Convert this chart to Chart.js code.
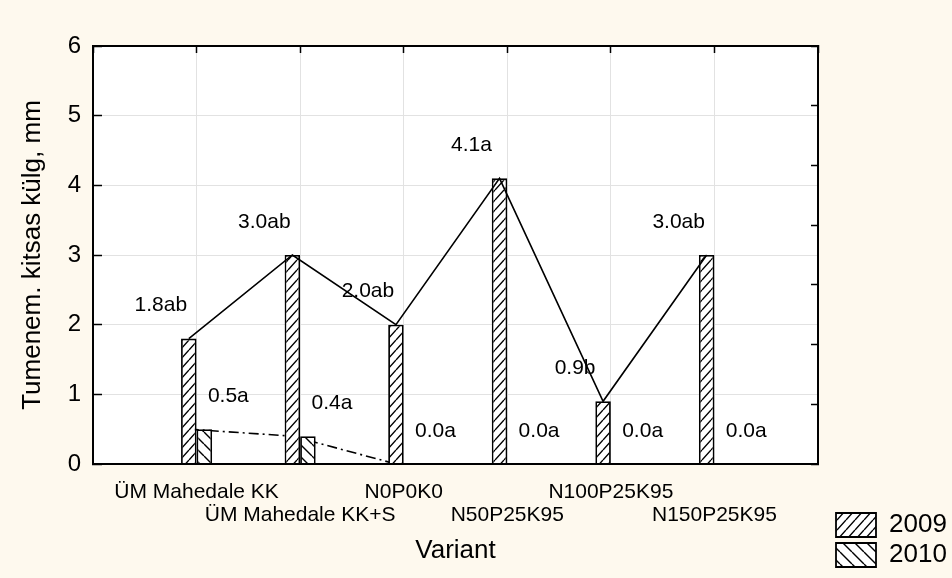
<!DOCTYPE html>
<html lang="et">

<head>
      <meta charset="UTF-8">
      <title>Tumenem. kitsas külg</title>
      <script src="https://cdn.jsdelivr.net/npm/chart.js"></script>
      <style>
            body { margin: 0; background: #fef9ee; }
            .chart-container { position: relative; width: 952px; height: 578px; }
      </style>
</head>

<body>
      <div class="chart-container">
            <canvas id="barChart" width="952" height="578"></canvas>
      </div>

      <script>
            // data
            const variants = ['ÜM Mahedale KK', 'ÜM Mahedale KK+S', 'N0P0K0', 'N50P25K95', 'N100P25K95', 'N150P25K95'];
            const years = ['2009', '2010'];
            const values2009 = [1.8, 3.0, 2.0, 4.1, 0.9, 3.0];
            const values2010 = [0.5, 0.4, 0.0, 0.0, 0.0, 0.0];
            const labels2009 = ['1.8ab', '3.0ab', '2.0ab', '4.1a', '0.9b', '3.0ab'];
            const labels2010 = ['0.5a', '0.4a', '0.0a', '0.0a', '0.0a', '0.0a'];
            const yMin = 0, yMax = 6, yStep = 1;
            const rightMax = 7;

            const FONT = "'Liberation Sans', Arial, sans-serif";
            Chart.defaults.font.family = FONT;
            Chart.defaults.color = '#000';

            // empty slot at both ends, every second name on the lower row
            const axisLabels = [''].concat(variants.map((v, i) => i % 2 ? ['', v] : v), ['']);
            const pad = arr => [null].concat(arr, [null]);

            function hatch(dir, w, h) {
                  const c = document.createElement('canvas');
                  c.width = w; c.height = h;
                  const g = c.getContext('2d');
                  g.fillStyle = '#fff';
                  g.fillRect(0, 0, w, h);
                  g.strokeStyle = '#000';
                  g.lineWidth = 1.4;
                  g.beginPath();
                  for (let k = -w; k <= w; k += w) {
                        if (dir > 0) { g.moveTo(k, h); g.lineTo(k + w, 0); }
                        else { g.moveTo(k, 0); g.lineTo(k + w, h); }
                  }
                  g.stroke();
                  return g.createPattern(c, 'repeat');
            }

            const gridColor = '#e2e2e2';
            const border = { display: true, color: '#000', width: 2, z: 1 };

            // page cream, plot area white
            const backgroundPlugin = {
                  id: 'bg',
                  beforeDraw(chart) {
                        const { ctx, chartArea: a } = chart;
                        ctx.save();
                        ctx.fillStyle = '#fef9ee';
                        ctx.fillRect(0, 0, chart.width, chart.height);
                        ctx.fillStyle = '#fff';
                        ctx.fillRect(a.left, a.top, a.right - a.left, a.bottom - a.top);
                        ctx.restore();
                  }
            };

            // both lines run through the 2009 bar centres
            const lineShiftPlugin = {
                  id: 'lineShift',
                  afterDatasetsUpdate(chart) {
                        const bars = chart.getDatasetMeta(0).data;
                        [2, 3].forEach(di => {
                              const meta = chart.getDatasetMeta(di);
                              meta.data.forEach((pt, i) => { if (bars[i]) pt.x = bars[i].x; });
                              if (meta.dataset) delete meta.dataset._path;
                        });
                  }
            };

            // value labels beside the bars
            const valueLabelPlugin = {
                  id: 'valueLabels',
                  afterDatasetsDraw(chart) {
                        const ctx = chart.ctx;
                        ctx.save();
                        ctx.font = '21px ' + FONT;
                        ctx.fillStyle = '#000';
                        ctx.textAlign = 'center';
                        ctx.textBaseline = 'middle';
                        [[0, labels2009, -28], [1, labels2010, 24]].forEach(([di, texts, dx]) => {
                              chart.getDatasetMeta(di).data.forEach((bar, i) => {
                                    const t = texts[i - 1];
                                    if (!t) return;
                                    ctx.fillText(t, bar.x + dx, bar.y - 33);
                              });
                        });
                        ctx.restore();
                  }
            };

            const ctx = document.getElementById('barChart').getContext('2d');
            new Chart(ctx, {
                  type: 'bar',
                  data: {
                        labels: axisLabels,
                        datasets: [
                              {
                                    label: years[0],
                                    data: pad(values2009),
                                    backgroundColor: hatch(1, 9, 10),
                                    borderColor: '#000',
                                    borderWidth: 1.8,
                                    order: 0
                              },
                              {
                                    label: years[1],
                                    data: pad(values2010),
                                    backgroundColor: hatch(-1, 12, 12),
                                    borderColor: '#000',
                                    borderWidth: 1.8,
                                    order: 0
                              },
                              {
                                    type: 'line',
                                    label: years[0] + ' line',
                                    data: pad(values2009),
                                    borderColor: '#000',
                                    borderWidth: 1.6,
                                    pointRadius: 0,
                                    fill: false,
                                    order: -1
                              },
                              {
                                    type: 'line',
                                    label: years[1] + ' line',
                                    data: pad(values2010),
                                    borderColor: '#000',
                                    borderWidth: 1.6,
                                    borderDash: [10, 4, 2, 4],
                                    pointRadius: 0,
                                    fill: false,
                                    order: 1
                              }
                        ]
                  },
                  options: {
                        responsive: false,
                        animation: false,
                        categoryPercentage: 0.3,
                        barPercentage: 1,
                        layout: { padding: { left: 0, right: 0, top: 0, bottom: 6 } },
                        scales: {
                              x: {
                                    type: 'category',
                                    position: 'bottom',
                                    offset: false,
                                    grid: { color: gridColor, offset: false, drawTicks: false },
                                    border: border,
                                    ticks: {
                                          autoSkip: false, maxRotation: 0, minRotation: 0,
                                          padding: 16.5,
                                          font: { size: 21, lineHeight: 1.1 }
                                    },
                                    title: {
                                          display: true, text: 'Variant',
                                          font: { size: 26, lineHeight: 1.2 },
                                          padding: { top: 0, bottom: 5.5 }
                                    },
                                    afterFit(s) { s.height = 108; }
                              },
                              xTop: {
                                    type: 'category',
                                    position: 'top',
                                    offset: false,
                                    display: true,
                                    grid: { color: 'transparent', offset: false, tickColor: '#000', tickLength: -7, tickWidth: 1.5 },
                                    border: border,
                                    ticks: { display: false, autoSkip: false },
                                    afterFit(s) { s.height = 46; }
                              },
                              y: {
                                    position: 'left',
                                    min: yMin, max: yMax,
                                    grid: { color: gridColor, tickColor: '#000', tickLength: -9, tickWidth: 1.5 },
                                    border: border,
                                    ticks: { stepSize: yStep, padding: 21, font: { size: 24 } },
                                    title: {
                                          display: true, text: 'Tumenem. kitsas külg, mm',
                                          font: { size: 26, lineHeight: 1.2 },
                                          padding: { top: 17.5, bottom: 0 }
                                    },
                                    afterFit(s) { s.width = 93; }
                              },
                              y2: {
                                    position: 'right',
                                    display: true,
                                    min: 0, max: rightMax,
                                    grid: { color: 'transparent', tickColor: '#000', tickLength: -7, tickWidth: 1.5 },
                                    border: border,
                                    ticks: { stepSize: 1, display: false },
                                    afterFit(s) { s.width = 14; }
                              }
                        },
                        plugins: {
                              legend: {
                                    position: 'right',
                                    align: 'end',
                                    maxWidth: 120,
                                    labels: {
                                          boxWidth: 40,
                                          boxHeight: 24,
                                          padding: 4,
                                          font: { size: 26 },
                                          filter: item => years.includes(item.text)
                                    }
                              },
                              tooltip: { enabled: false }
                        }
                  },
                  plugins: [backgroundPlugin, lineShiftPlugin, valueLabelPlugin]
            });
      </script>
</body>

</html>
